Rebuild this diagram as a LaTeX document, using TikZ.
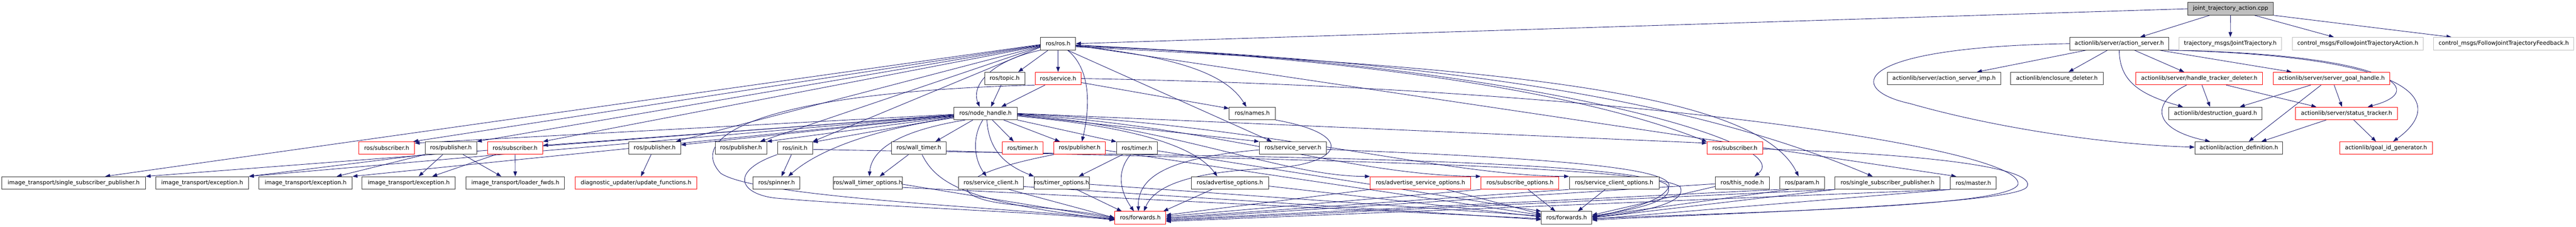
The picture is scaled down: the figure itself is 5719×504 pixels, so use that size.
\documentclass[tikz,border=0pt]{standalone}
\usepackage{fontspec}
\setmainfont{DejaVu Sans}
\usetikzlibrary{arrows.meta}
\definecolor{edgec}{HTML}{191970}
\definecolor{lgray}{HTML}{BFBFBF}
\definecolor{boxred}{HTML}{FF0000}
\pgfdeclarelayer{bg}
\pgfsetlayers{bg,main}
\tikzset{
  box/.style={draw=black!80, line width=1.1pt, fill=white, minimum height=28pt, inner sep=0pt, font=\fontsize{12.6}{14}\selectfont},
  rbox/.style={box, draw=boxred},
  gbox/.style={box, draw=lgray},
  rootbox/.style={box, fill=lgray},
  edge/.style={draw=edgec, line width=1pt, -{Triangle[length=11pt,width=8pt]}},
}
\begin{document}
\begin{tikzpicture}[x=1pt,y=-1pt]
\useasboundingbox (0,0) rectangle (5719,504);
% row 0
\node[rootbox, minimum width=190pt] (jta) at (4952,19.5) {joint\_trajectory\_action.cpp};
% row 1
\node[box, minimum width=78pt] (ros) at (2349,97) {ros/ros.h};
\node[box, minimum width=220pt] (as) at (4705,97) {actionlib/server/action\_server.h};
\node[gbox, minimum width=227pt] (jt) at (4951.5,97) {trajectory\_msgs/JointTrajectory.h};
\node[gbox, minimum width=291pt] (fja) at (5234.5,97) {control\_msgs/FollowJointTrajectoryAction.h};
\node[gbox, minimum width=311pt] (fjf) at (5558.5,97) {control\_msgs/FollowJointTrajectoryFeedback.h};
% row 2
\node[box, minimum width=89pt] (topic) at (2230.5,174.5) {ros/topic.h};
\node[rbox, minimum width=102pt] (service) at (2349,174.5) {ros/service.h};
\node[box, minimum width=252pt] (asimp) at (4316,174.5) {actionlib/server/action\_server\_imp.h};
\node[box, minimum width=205pt] (encl) at (4566.5,174.5) {actionlib/enclosure\_deleter.h};
\node[rbox, minimum width=281pt] (htd) at (4882.5,174.5) {actionlib/server/handle\_tracker\_deleter.h};
\node[rbox, minimum width=258pt] (sgh) at (5176,174.5) {actionlib/server/server\_goal\_handle.h};
% row 3
\node[box, minimum width=140pt] (nh) at (2188,252) {ros/node\_handle.h};
\node[box, minimum width=102pt] (names) at (2780,252) {ros/names.h};
\node[box, minimum width=207pt] (dg) at (4918.5,252) {actionlib/destruction\_guard.h};
\node[rbox, minimum width=227pt] (st) at (5209.5,252) {actionlib/server/status\_tracker.h};
% row 4
\node[rbox, minimum width=123pt] (sub1) at (858.5,329) {ros/subscriber.h};
\node[box, minimum width=114pt] (pub1) at (1001,329) {ros/publisher.h};
\node[rbox, minimum width=123pt] (sub2) at (1143.5,329) {ros/subscriber.h};
\node[box, minimum width=115pt] (pub2) at (1453.5,329) {ros/publisher.h};
\node[box, minimum width=114pt] (pub3) at (1645,329) {ros/publisher.h};
\node[box, minimum width=78pt] (init) at (1765,329) {ros/init.h};
\node[box, minimum width=122pt] (wt) at (2040,329) {ros/wall\_timer.h};
\node[rbox, minimum width=91pt] (timerR) at (2270.5,329) {ros/timer.h};
\node[rbox, minimum width=114pt] (pubR) at (2397,329) {ros/publisher.h};
\node[box, minimum width=90pt] (timerB) at (2524,329) {ros/timer.h};
\node[box, minimum width=149pt] (ss) at (2870.5,329) {ros/service\_server.h};
\node[rbox, minimum width=123pt] (sub3) at (3851.5,329) {ros/subscriber.h};
\node[box, minimum width=195pt] (ad) at (4970.5,329) {actionlib/action\_definition.h};
\node[rbox, minimum width=206pt] (gid) at (5297,329) {actionlib/goal\_id\_generator.h};
% row 5
\node[box, minimum width=319pt] (itssp) at (163.5,406.5) {image\_transport/single\_subscriber\_publisher.h};
\node[box, minimum width=206pt] (exc1) at (449,406.5) {image\_transport/exception.h};
\node[box, minimum width=207pt] (exc2) at (678.5,406.5) {image\_transport/exception.h};
\node[box, minimum width=207pt] (exc3) at (907.5,406.5) {image\_transport/exception.h};
\node[box, minimum width=218pt] (lf) at (1144,406.5) {image\_transport/loader\_fwds.h};
\node[rbox, minimum width=270pt] (uf) at (1412,406.5) {diagnostic\_updater/update\_functions.h};
\node[box, minimum width=104pt] (spin) at (1724,406.5) {ros/spinner.h};
\node[box, minimum width=152pt] (wto) at (1927,406.5) {ros/wall\_timer\_options.h};
\node[box, minimum width=144pt] (sc) at (2200,406.5) {ros/service\_client.h};
\node[box, minimum width=122pt] (topt) at (2357,406.5) {ros/timer\_options.h};
\node[box, minimum width=171pt] (ao) at (2730.5,406.5) {ros/advertise\_options.h};
\node[rbox, minimum width=223pt] (aso) at (3153.5,406.5) {ros/advertise\_service\_options.h};
\node[rbox, minimum width=173pt] (so) at (3374.5,406.5) {ros/subscribe\_options.h};
\node[box, minimum width=199pt] (sco) at (3583.5,406.5) {ros/service\_client\_options.h};
\node[box, minimum width=120pt] (tn) at (3868,406.5) {ros/this\_node.h};
\node[box, minimum width=100pt] (param) at (4001,406.5) {ros/param.h};
\node[box, minimum width=233pt] (rssp) at (4190.5,406.5) {ros/single\_subscriber\_publisher.h};
\node[box, minimum width=102pt] (master) at (4381,406.5) {ros/master.h};
% row 6
\node[rbox, minimum width=113pt] (fwdR) at (2531.5,484) {ros/forwards.h};
\node[box, minimum width=112pt] (fwdB) at (3478,484) {ros/forwards.h};

\begin{pgfonlayer}{bg}
% joint_trajectory_action.cpp
\draw[edge] (jta.west) -- (ros.east);
\draw[edge] (jta) -- (as);
\draw[edge] (jta) -- (jt);
\draw[edge] (jta) -- (fja);
\draw[edge] (jta.south east) -- ([xshift=-116pt]fjf.north);
% action_server.h
\draw[edge] (as) -- (asimp);
\draw[edge] (as) -- (encl);
\draw[edge] (as) -- (htd);
\draw[edge] (as) -- (sgh);
\draw[edge] (as.south) .. controls (4705,180) and (4750,210) .. ([xshift=-72pt]dg.north);
\draw[edge] (as.south east) .. controls (5300,120) and (5400,200) .. ([xshift=47pt]st.north);
\draw[edge] (as.south east) .. controls (5380,125) and (5430,230) .. ([xshift=16pt]gid.north);
\draw[edge] (as.west) .. controls (4100,105) and (4100,200) .. (4240,230) .. controls (4450,290) and (4700,322) .. ([yshift=2pt]ad.west);
% handle_tracker_deleter
\draw[edge] ([xshift=6pt]htd.south) -- ([xshift=-12pt]dg.north);
\draw[edge] ([xshift=60pt]htd.south) -- ([xshift=-67pt]st.north);
\draw[edge] ([xshift=-28pt]htd.south) .. controls (4780,225) and (4770,285) .. ([xshift=-64pt]ad.north);
% server_goal_handle
\draw[edge] ([xshift=-46pt]sgh.south) -- ([xshift=54pt]dg.north);
\draw[edge] ([xshift=-23pt]sgh.south) -- ([xshift=22pt]ad.north);
\draw[edge] ([xshift=6pt]sgh.south) -- ([xshift=-10pt]st.north);
% status_tracker
\draw[edge] ([xshift=-45pt]st.south) -- ([xshift=50pt]ad.north);
\draw[edge] ([xshift=16pt]st.south) -- ([xshift=-22pt]gid.north);
% ros.h
\draw[edge] ([yshift=-2pt]ros.west) -- ([xshift=70pt]itssp.north);
\draw[edge] ([yshift=-3pt]ros.west) -- ([xshift=-3pt]sub1.north east);
\draw[edge] ([yshift=-4pt]ros.west) -- (pub1.north east);
\draw[edge] ([yshift=-5pt]ros.west) -- (sub2.north east);
\draw[edge] ([yshift=-6pt]ros.west) -- ([xshift=-11pt]pub2.north east);
\draw[edge] ([yshift=-7pt]ros.west) -- ([xshift=-15pt]pub3.north east);
\draw[edge] ([yshift=-8pt]ros.west) -- (init.north east);
\draw[edge] (ros.south west) .. controls (2200,135) and (2155,190) .. ([xshift=-13pt]nh.north);
\draw[edge] ([xshift=-22pt]ros.south) -- ([xshift=30pt]topic.north);
\draw[edge] (ros) -- (service);
\draw[edge] ([xshift=21pt]ros.south) .. controls (2430,160) and (2415,260) .. ([xshift=5pt]pubR.north);
\draw[edge] ([yshift=-5pt]ros.east) .. controls (2600,125) and (2720,160) .. ([xshift=-13pt]names.north);
\draw[edge] ([xshift=21pt]ros.south) -- ([xshift=-47pt]ss.north);
\draw[edge] ([yshift=-3pt]ros.east) .. controls (3000,130) and (3500,200) .. ([yshift=14pt]sub3.west);
\draw[edge] ([yshift=-6pt]ros.east) .. controls (3300,130) and (4000,310) .. ([xshift=27pt]tn.north);
\draw[edge] ([yshift=-7pt]ros.east) .. controls (3300,150) and (3900,200) .. ([xshift=-8pt]param.north);
\draw[edge] ([yshift=-4pt]ros.east) .. controls (3300,140) and (3800,240) .. ([xshift=-33pt]rssp.north);
\draw[edge] ([yshift=-4pt]ros.east) -- ([xshift=-38pt]master.north);
% topic.h, service.h
\draw[edge] ([xshift=-8pt]topic.south) -- ([xshift=12pt]nh.north);
\draw[edge] ([xshift=-29pt]service.south) -- ([xshift=35pt]nh.north);
\draw[edge] ([yshift=-9pt]service.east) -- ([yshift=11pt]names.west);
\draw[edge] (service.south west) .. controls (1700,205) and (1520,300) .. (1600,385) .. controls (1680,440) and (2250,462) .. ([yshift=-3pt]fwdR.west);
\draw[edge] (service.east) .. controls (3600,195) and (4500,330) .. (4480,410) .. controls (4460,460) and (3900,470) .. ([yshift=-2pt]fwdB.east);
% node_handle.h
\draw[edge] ([yshift=-3pt]nh.west) -- (itssp.north east);
\draw[edge] ([yshift=-4pt]nh.west) -- (exc1.north east);
\draw[edge] ([yshift=-5pt]nh.west) -- (exc2.north east);
\draw[edge] ([yshift=-2pt]nh.west) -- ([yshift=11pt]sub1.east);
\draw[edge] ([yshift=-4pt]nh.west) -- ([yshift=6pt]sub2.east);
\draw[edge] ([yshift=-6pt]nh.west) -- ([yshift=7pt]pub2.east);
\draw[edge] ([yshift=-7pt]nh.west) -- (pub3.north east);
\draw[edge] ([yshift=-8pt]nh.west) -- ([yshift=13pt]init.east);
\draw[edge] ([yshift=-10pt]nh.west) .. controls (1950,285) and (1820,330) .. ([xshift=26pt]spin.north);
\draw[edge] ([xshift=-45pt]nh.south) .. controls (2000,290) and (1935,330) .. ([xshift=3pt]wto.north);
\draw[edge] ([xshift=-28pt]nh.south) -- ([xshift=37pt]wt.north);
\draw[edge] ([xshift=-6pt]nh.south) .. controls (2160,300) and (2160,350) .. ([xshift=-10pt]sc.north);
\draw[edge] ([xshift=15pt]nh.south) -- ([xshift=-20pt]timerR.north);
\draw[edge] ([xshift=3pt]nh.south) .. controls (2195,340) and (2240,370) .. (topt.north west);
\draw[edge] ([xshift=40pt]nh.south) -- ([xshift=-44pt]pubR.north);
\draw[edge] (nh.south east) -- ([yshift=14pt]timerB.west);
\draw[edge] ([yshift=-6pt]nh.east) .. controls (2500,280) and (2650,320) .. ([xshift=-28pt]ao.north);
\draw[edge] ([yshift=-4pt]nh.east) -- (ss.north west);
\draw[edge] ([yshift=-3pt]nh.east) .. controls (2600,280) and (2850,392) .. (aso.north west);
\draw[edge] ([yshift=-2pt]nh.east) .. controls (2700,280) and (3000,390) .. (so.north west);
\draw[edge] ([yshift=-1pt]nh.east) .. controls (2800,275) and (3200,390) .. (sco.north west);
\draw[edge] (nh.east) -- ([yshift=11pt]sub3.west);
% image_transport side
\draw[edge] (pub1.south west) -- (exc1.north east);
\draw[edge] (pub1.south west) -- ([xshift=-35pt]exc2.north east);
\draw[edge] ([xshift=-18pt]pub1.south) -- ([xshift=22pt]exc3.north);
\draw[edge] ([xshift=27pt]pub1.south) -- ([xshift=-31pt]lf.north);
\draw[edge] ([xshift=-43pt]sub2.south) -- ([xshift=52pt]exc3.north);
\draw[edge] (sub2) -- (lf);
\draw[edge] ([xshift=-8pt]pub2.south) -- ([xshift=11pt]uf.north);
% init.h
\draw[edge] ([xshift=-8pt]init.south) -- ([xshift=11pt]spin.north);
\draw[edge] (init.south west) .. controls (1620,380) and (1640,430) .. (1720,440) .. controls (1950,460) and (2300,470) .. ([yshift=-5pt]fwdR.west);
\draw[edge] ([yshift=-3pt]init.east) .. controls (2400,345) and (3600,345) .. (3700,410) .. controls (3730,450) and (3600,470) .. ([yshift=4pt]fwdB.east);
% wall_timer.h
\draw[edge] ([xshift=-23pt]wt.south) -- ([xshift=26pt]wto.north);
\draw[edge] ([xshift=7pt]wt.south) .. controls (2080,410) and (2150,450) .. ([yshift=-4pt]fwdR.west);
\draw[edge] ([yshift=-6pt]wt.east) .. controls (2500,350) and (3650,360) .. (3730,415) .. controls (3750,455) and (3620,475) .. ([yshift=2pt]fwdB.east);
% timer.h
\draw[edge] ([xshift=-32pt]timerB.south) -- ([xshift=38pt]topt.north);
\draw[edge] ([xshift=-14pt]timerB.south) .. controls (2475,385) and (2490,430) .. ([xshift=-14pt]fwdR.north);
\draw[edge] ([yshift=-6pt]timerB.east) -- (fwdB.north west);
% publisher.h (red)
\draw[edge] (pubR.south west) .. controls (2100,390) and (2100,440) .. (2250,455) .. controls (2350,465) and (2420,472) .. ([yshift=-1pt]fwdR.west);
\draw[edge] ([yshift=-5pt]pubR.east) -- ([yshift=6pt]fwdB.west);
% options to forwards
\draw[edge] ([yshift=-3pt]wto.east) -- ([yshift=-2pt]fwdR.west);
\draw[edge] ([yshift=-10pt]wto.east) -- ([yshift=-2pt]fwdB.west);
\draw[edge] ([xshift=40pt]sc.south) -- (fwdR.west);
\draw[edge] ([yshift=-8pt]sc.east) -- ([yshift=-4pt]fwdB.west);
\draw[edge] ([xshift=33pt]topt.south) -- ([xshift=-41pt]fwdR.north);
\draw[edge] ([yshift=-3pt]topt.east) -- ([yshift=4pt]fwdB.west);
\draw[edge] ([xshift=-40pt]ao.south) -- ([xshift=51pt]fwdR.north);
\draw[edge] ([yshift=-7pt]ao.east) -- ([yshift=2pt]fwdB.west);
\draw[edge] (aso.south west) -- ([yshift=6pt]fwdR.east);
\draw[edge] ([xshift=58pt]aso.south) -- ([yshift=8pt]fwdB.west);
\draw[edge] (so.south west) -- ([yshift=3pt]fwdR.east);
\draw[edge] ([xshift=18pt]so.south) -- ([xshift=-25pt]fwdB.north);
\draw[edge] (sco.south west) -- (fwdR.east);
\draw[edge] ([xshift=-20pt]sco.south) -- ([xshift=25pt]fwdB.north);
% right side headers to forwards
\draw[edge] ([yshift=-2pt]tn.west) -- ([yshift=-2pt]fwdR.east);
\draw[edge] ([yshift=-8pt]tn.west) -- ([yshift=6pt]fwdB.east);
\draw[edge] (param.south west) -- ([yshift=-4pt]fwdR.east);
\draw[edge] ([xshift=-30pt]param.south) -- ([yshift=3pt]fwdB.east);
\draw[edge] (rssp.south west) -- ([yshift=-6pt]fwdR.east);
\draw[edge] (rssp.south west) -- (fwdB.east);
\draw[edge] (master.south west) -- ([yshift=-8pt]fwdR.east);
\draw[edge] (master.south west) -- ([yshift=-3pt]fwdB.east);
\draw[edge] ([yshift=-2pt]sub3.east) .. controls (4350,345) and (4520,380) .. (4500,415) .. controls (4480,455) and (3800,475) .. ([yshift=-5pt]fwdB.east);
\draw[edge] ([yshift=-4pt]ss.west) .. controls (2600,350) and (2525,390) .. ([xshift=-4pt]fwdR.north);
\draw[edge] ([yshift=-3pt]ss.east) .. controls (3400,350) and (3720,370) .. (3705,415) .. controls (3690,450) and (3600,468) .. ([yshift=1pt]fwdB.east);
\draw[edge] (names.south east) .. controls (3020,300) and (2980,370) .. (2800,375) .. controls (2620,385) and (2560,420) .. ([xshift=8pt]fwdR.north);
\end{pgfonlayer}
\end{tikzpicture}
\end{document}
